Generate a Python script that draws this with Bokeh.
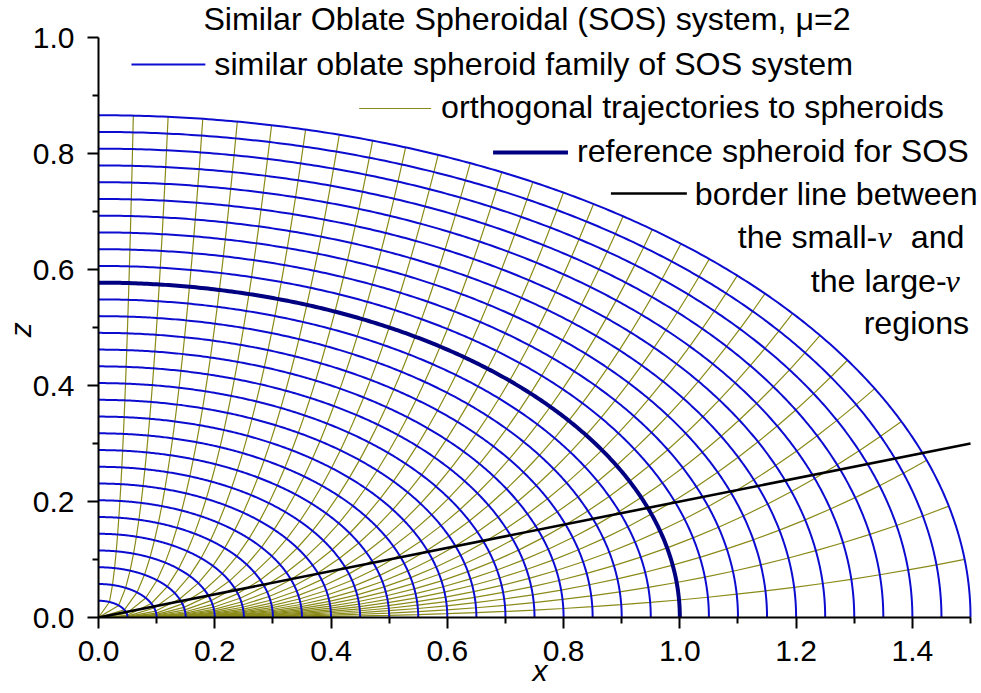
import numpy as np
from bokeh.plotting import figure
from bokeh.models import Range1d, FixedTicker, PrintfTickFormatter
from bokeh.embed import file_html
from bokeh.resources import INLINE
from bokeh.core.properties import value

# ---------------- data ----------------
MU = 2
SPHEROID_SIZES = [0.05, 0.10, 0.15, 0.20, 0.25, 0.30, 0.35, 0.40, 0.45, 0.50,
                  0.55, 0.60, 0.65, 0.70, 0.75, 0.80, 0.85, 0.90, 0.95, 1.00,
                  1.05, 1.10, 1.15, 1.20, 1.25, 1.30, 1.35, 1.40, 1.45, 1.50]
REFERENCE_SIZE = 1.0
# eccentric angle (deg) where each orthogonal trajectory crosses the reference spheroid
TRAJECTORY_ANGLES_DEG = [0, 3, 6, 9, 12, 15, 18, 21, 24, 27, 30, 33, 36, 39, 42, 45,
                         48, 51, 54, 57, 60, 63, 66, 69, 72, 75, 78, 81, 84, 87, 90]
BORDER_X = [0.0, 1.5]
BORDER_Z = [0.0, 0.3]
X_TICKS = [0.0, 0.2, 0.4, 0.6, 0.8, 1.0, 1.2, 1.4]
X_MINOR = [0.1, 0.3, 0.5, 0.7, 0.9, 1.1, 1.3, 1.5]
Z_TICKS = [0.0, 0.2, 0.4, 0.6, 0.8, 1.0]
Z_MINOR = [0.1, 0.3, 0.5, 0.7, 0.9]
TITLE = "Similar Oblate Spheroidal (SOS) system, \u03bc=2"
LEGEND_LABELS = ["similar oblate spheroid family of SOS system",
                 "orthogonal trajectories to spheroids",
                 "reference spheroid for SOS",
                 "border line between"]
BORDER_NOTE = ["the small-", "\u03bd", "and", "the large-", "\u03bd", "regions"]

# ---------------- styles ----------------
BLUE = "#0c0cd0"
NAVY = "#000080"
OLIVE = "#8a8a18"
FONT = "Liberation Sans"
TXT = "32.2px"
SHIFT = 12  # text baseline correction (px)

# page-pixel -> data helpers (layout only)
def dx(px):
    return (px - 97.0) / 582.0

def dz(py):
    return (617.0 - py) / 580.0

def dzt(py):
    return dz(py - SHIFT)

q = 1.0 / np.sqrt(1.0 + MU)
sizes = np.array(SPHEROID_SIZES, dtype=float)

p = figure(width=981, height=693, output_backend="svg", toolbar_location=None,
           x_range=Range1d(0, 884.0 / 582.0), y_range=Range1d(0, 617.0 / 580.0),
           min_border_left=97, min_border_right=0, min_border_top=0,
           min_border_bottom=76)
p.grid.visible = False
p.outline_line_color = None
p.background_fill_color = "white"
p.border_fill_color = "white"

# orthogonal trajectories: polylines through grid nodes
for ang in TRAJECTORY_ANGLES_DEG:
    t = np.deg2rad(ang)
    if ang >= 90:
        xs = np.zeros(len(sizes))
        zs = sizes * q
    elif ang <= 0:
        xs = sizes.copy()
        zs = np.zeros(len(sizes))
    else:
        k = q * np.sin(t) / np.cos(t) ** (1 + MU)
        lo = np.zeros(len(sizes))
        hi = sizes.copy()
        for _ in range(80):
            mid = 0.5 * (lo + hi)
            f = mid ** 2 + (1 + MU) * k ** 2 * mid ** (2 * (1 + MU)) - sizes ** 2
            hi = np.where(f > 0, mid, hi)
            lo = np.where(f > 0, lo, mid)
        xs = 0.5 * (lo + hi)
        zs = k * xs ** (1 + MU)
    p.line(np.concatenate([[0.0], xs]), np.concatenate([[0.0], zs]),
           line_color=OLIVE, line_width=1.2)

# spheroid family
s = np.linspace(0, np.pi / 2, 300)
for c in SPHEROID_SIZES:
    p.line(c * np.cos(s), c * q * np.sin(s), line_color=BLUE, line_width=2.0)

# reference spheroid
p.line(REFERENCE_SIZE * np.cos(s), REFERENCE_SIZE * q * np.sin(s),
       line_color=NAVY, line_width=4.0)

# border line
p.line(BORDER_X, BORDER_Z, line_color="black", line_width=2.6)

# title
p.text(x=[dx(202)], y=[dzt(30)], text=[TITLE], text_font=value(FONT),
       text_font_size=TXT, text_color="black", text_baseline="alphabetic",
       text_align="left")

# legend samples
p.line([dx(130), dx(204)], [dz(64), dz(64)], line_color=BLUE, line_width=2.0)
p.line([dx(358), dx(430)], [dz(108), dz(108)], line_color=OLIVE, line_width=1.2)
p.line([dx(492), dx(567)], [dz(152), dz(152)], line_color=NAVY, line_width=4.0)
p.line([dx(610), dx(686)], [dz(193), dz(193)], line_color="black", line_width=2.6)

p.text(x=[dx(213), dx(440), dx(576), dx(694)],
       y=[dzt(75), dzt(118), dzt(162), dzt(205)],
       text=LEGEND_LABELS, text_font=value(FONT), text_font_size=TXT,
       text_color="black", text_baseline="alphabetic", text_align="left")

# border-line note
p.text(x=[dx(737), dx(810), dx(863)], y=[dzt(248), dzt(292), dzt(334)],
       text=[BORDER_NOTE[0], BORDER_NOTE[3], BORDER_NOTE[5]],
       text_font=value(FONT), text_font_size=TXT, text_color="black",
       text_baseline="alphabetic", text_align="left")
p.text(x=[dx(877), dx(945)], y=[dzt(248), dzt(292)],
       text=[BORDER_NOTE[1], BORDER_NOTE[4]],
       text_font=value("Liberation Serif"), text_font_style="italic",
       text_font_size=TXT, text_color="black",
       text_baseline="alphabetic", text_align="left")
p.text(x=[dx(964)], y=[dzt(248)], text=[BORDER_NOTE[2]],
       text_font=value(FONT), text_font_size=TXT, text_color="black",
       text_baseline="alphabetic", text_align="right")

# axes
p.xaxis.bounds = (0, 1.5)
p.yaxis.bounds = (0, 1.0)
p.xaxis.ticker = FixedTicker(ticks=X_TICKS, minor_ticks=X_MINOR)
p.yaxis.ticker = FixedTicker(ticks=Z_TICKS, minor_ticks=Z_MINOR)
p.xaxis.axis_label = "x"
# trailing no-break spaces push the centred "z" slightly down, as in the reference
p.yaxis.axis_label = "z" + "\u00a0" * 5
for ax in (p.xaxis, p.yaxis):
    ax.formatter = PrintfTickFormatter(format="%.1f")
    ax.axis_line_width = 2
    ax.axis_line_color = "black"
    ax.major_tick_line_width = 2
    ax.minor_tick_line_width = 2
    ax.major_tick_line_color = "black"
    ax.minor_tick_line_color = "black"
    ax.major_tick_out = 11
    ax.major_tick_in = 0
    ax.minor_tick_out = 6
    ax.minor_tick_in = 0
    ax.major_label_text_font = FONT
    ax.major_label_text_font_size = "30px"
    ax.major_label_text_color = "black"
    ax.axis_label_text_font = FONT
    ax.axis_label_text_font_size = "30px"
    ax.axis_label_text_font_style = "italic"
    ax.axis_label_text_color = "black"
p.xaxis.major_label_standoff = 12
p.yaxis.major_label_standoff = 13
p.xaxis.axis_label_standoff = -10
p.yaxis.axis_label_standoff = -7

open("out.html", "w").write(file_html(p, INLINE))
